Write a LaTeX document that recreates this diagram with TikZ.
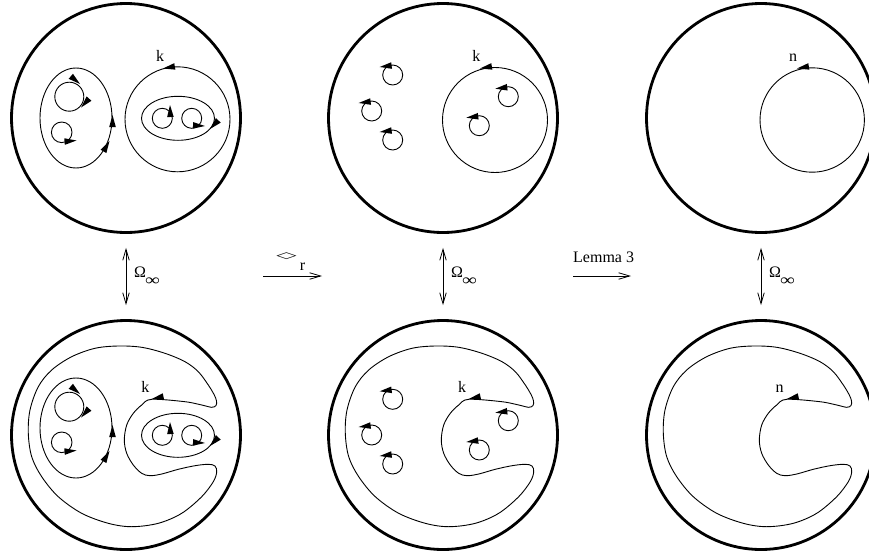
\documentclass[tikz,border=0pt]{standalone}
\usepackage{fontspec}
\setmainfont{Liberation Serif}
\newfontfamily\djv{DejaVu Sans}
\usetikzlibrary{arrows.meta}
\newcommand\ahd[3]{\fill[shift={(#1,#2)},rotate=#3] (0,0) -- (-12,3.3) -- (-12,-3.3) -- cycle;}
\newcommand\loopL[2]{\draw[thinl] (#1,#2) circle[radius=10]; \ahd{#1-13}{#2-8}{187}}
\newcommand\horse[2]{\draw[thinl,shift={(#1,#2)}] plot[smooth cycle,tension=0.55] coordinates {
(25.7,-35.7) (59,-33.3) (75.7,-30) (85.7,-27.7) (90,-29.5) (90.5,-34) (88.3,-40) (82.3,-50) (72.3,-63.3) (59,-73.3) (39,-81.7) (15.7,-87.7) (-7.7,-89) (-31,-86.7) (-54.3,-78.3) (-74.3,-65) (-87.7,-48.3) (-96,-25) (-97.7,-1.7) (-94.3,21.7) (-84.3,41.7) (-67.7,61.7) (-44.3,78.3) (-17.7,88.3) (5.7,91.7) (32.3,88.3) (55.7,78.3) (75.7,61.7) (87.3,46.7) (90.7,37) (89,31) (82.3,29.3) (69,30.7) (52.3,34.3) (35.7,39) (24,40.7) (15.7,38.3) (7.3,30) (0.7,18.3) (-1.7,5) (0.7,-10) (7.3,-21.7) (15.7,-30)};}
\newcommand\leftpart{%
  \draw[thinl] (76,118) ellipse[x radius=36,y radius=50];
  \ahd{112.5}{115}{90}
  \ahd{109.5}{141}{60}
  \draw[thinl] (69.3,96.7) circle[radius=14.5];
  \ahd{80}{84}{-40}
  \ahd{81}{107.5}{228}
  \draw[thinl] (61.7,132.3) circle[radius=10.3];
  \ahd{76.5}{140.5}{5}}
\newcommand\innerpart{%
  \draw[thinl] (178,118.3) ellipse[x radius=36.5,y radius=22];
  \ahd{210}{129}{226}
  \draw[thinl] (162.3,118.3) circle[radius=10];
  \ahd{170}{105}{92}
  \draw[thinl] (191.7,118.3) circle[radius=10];
  \ahd{205}{126}{-3}}
\begin{document}
\begin{tikzpicture}[x=1pt,y=-1pt,
  bigc/.style={circle,draw,line width=2.8pt,minimum size=229pt,inner sep=0pt},
  thinl/.style={line width=0.9pt},
  lbl/.style={inner sep=0pt,anchor=base,font=\fontsize{16}{18}\selectfont},
  dbl/.style={line width=0.8pt,{Straight Barb[length=11pt,width=6.5pt]}-{Straight Barb[length=11pt,width=6.5pt]},shorten <=14pt,shorten >=14pt},
  hor/.style={line width=0.8pt,-{Straight Barb[length=11pt,width=6.5pt]}}]
\useasboundingbox (0,0) rectangle (869,554);
% big circles
\node[bigc] (tl) at (126,118) {};
\node[bigc] (tm) at (443,118) {};
\node[bigc] (tr) at (761,118) {};
\node[bigc] (bl) at (126,435) {};
\node[bigc] (bm) at (443,435) {};
\node[bigc] (br) at (761,435) {};
% top left
\leftpart
\draw[thinl] (177.5,119.3) circle[radius=52.5];
\ahd{163}{68.5}{190}
\node[lbl] at (160,61.7) {k};
\innerpart
% bottom left
\begin{scope}[shift={(0,310)}]\leftpart\end{scope}
\begin{scope}[shift={(0,317)}]\innerpart\end{scope}
\horse{126}{435}
\ahd{151.7}{399}{192}
\node[lbl] at (145.3,392.3) {k};
% top middle
\loopL{392.7}{75}\loopL{371.7}{111}\loopL{392.7}{140}\loopL{508.3}{96.7}\loopL{479.3}{125.7}
\draw[thinl] (495,120) circle[radius=52.5];
\ahd{480}{68.5}{190}
\node[lbl] at (476.3,61.7) {k};
% bottom middle
\horse{443}{435}
\loopL{392.7}{399.3}\loopL{371.7}{435}\loopL{392.7}{464}\loopL{508.3}{420.7}\loopL{479.3}{450}
\ahd{468.7}{399}{192}
\node[lbl] at (462,392.7) {k};
% top right
\draw[thinl] (812.2,120) circle[radius=52.2];
\ahd{797}{68.5}{190}
\node[lbl] at (793,61) {n};
% bottom right
\horse{761}{435}
\ahd{786.7}{399}{192}
\node[lbl] at (779.5,392.5) {n};
% vertical arrows
\draw[dbl] (tl.south) -- (bl.north);
\draw[dbl] (tm.south) -- (bm.north);
\draw[dbl] (tr.south) -- (br.north);
\foreach \c in {126,443,761}{
  \node[inner sep=0pt,anchor=base west,font=\fontsize{16}{18}\selectfont] (om\c) at (\c+8,277) {Ω};
  \node[inner sep=0pt,anchor=base west,font=\fontsize{16}{18}\selectfont] (inf\c) at (\c+19,285.5) {\scalebox{1.3}[1]{∞}};
}
% horizontal arrows
\coordinate (h1a) at (263,276);
\coordinate (h1b) at (322,276);
\coordinate (h2a) at (573,276);
\coordinate (h2b) at (631,276);
\draw[hor] (h1a) -- (h1b);
\draw[hor] (h2a) -- (h2b);
\node[inner sep=0pt] (dia) at (286.5,256.5) {\djv\fontsize{12}{14}\selectfont\scalebox{2.2}[0.75]{◇}};
\node[lbl] at (302.5,270) {r};
\node[lbl,anchor=base west] at (573,262) {Lemma 3};
\end{tikzpicture}
\end{document}
